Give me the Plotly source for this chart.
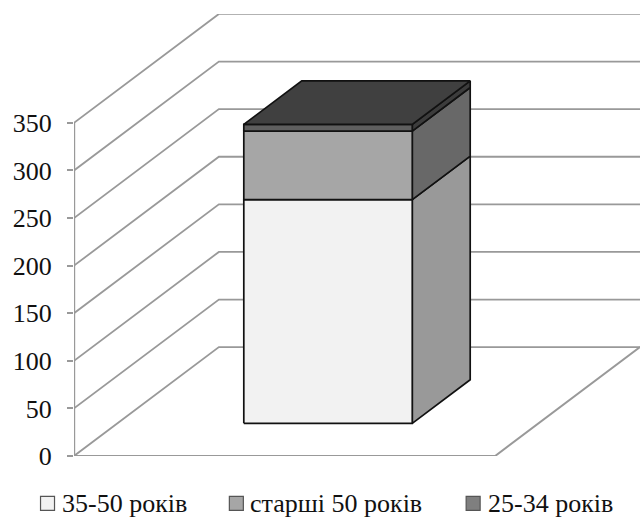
import plotly.graph_objects as go

categories = ["35-50 років", "старші 50 років", "25-34 років"]
values = [235, 72, 7]
y_ticks = [0, 50, 100, 150, 200, 250, 300, 350]
front_colors = ["#f2f2f2", "#a6a6a6", "#5f5f5f"]
side_colors = ["#999999", "#686868", "#3c3c3c"]
legend_colors = ["#f2f2f2", "#a6a6a6", "#7f7f7f"]
top_color = "#404040"
grid_color = "#999999"

W, H = 640, 517
L, B, T = 73.5, 60.5, 14
FLOOR_W = 421.5
PX_PER_UNIT = 0.953
DX, DY = 145 / FLOOR_W, 109 / PX_PER_UNIT


def p(x, d, v):
    return x + DX * d, v + DY * d


def poly(pts, fill, color="#111111", width=1.7):
    xs, ys = zip(*[p(*q) for q in pts])
    return go.Scatter(x=list(xs) + [xs[0]], y=list(ys) + [ys[0]], mode="lines", fill="toself",
                      fillcolor=fill, line=dict(color=color, width=width), hoverinfo="skip", showlegend=False)


def line(pts, width=1.8):
    xs, ys = zip(*[p(*q) for q in pts])
    return go.Scatter(x=xs, y=ys, mode="lines", line=dict(color=grid_color, width=width),
                      hoverinfo="skip", showlegend=False)


fig = go.Figure()
x_end = (W - L) / FLOOR_W
for t in y_ticks:
    fig.add_trace(line([(0, 0, t), (0, 1, t), (x_end - DX, 1, t)]))
fig.add_trace(line([(0, 0, 0), (0, 0, y_ticks[-1])], width=2.4))
fig.add_trace(line([(0, 0, 0), (1, 0, 0), (x_end - DX, 1, 0)], width=2))

x0, x1, d0, d1 = 0.3, 0.7, 0.3, 0.7
base = 0
for val, fc, sc in zip(values, front_colors, side_colors):
    top = base + val
    fig.add_trace(poly([(x1, d0, base), (x1, d1, base), (x1, d1, top), (x1, d0, top)], sc))
    fig.add_trace(poly([(x0, d0, base), (x1, d0, base), (x1, d0, top), (x0, d0, top)], fc))
    base = top
fig.add_trace(poly([(x0, d0, base), (x1, d0, base), (x1, d1, base), (x0, d1, base)], top_color))

FONT = "Liberation Serif"
PW, PH = W - L, H - B - T


def px(v):
    return (v - L) / PW


def py(v):
    return (H - B - v) / PH


annotations, shapes = [], []
swatch_x = [40, 229, 466]
text_x = [60, 249, 487]
for name, sx, tx, fc in zip(categories, swatch_x, text_x, legend_colors):
    shapes.append(dict(type="rect", xref="paper", yref="paper", layer="above",
                       x0=px(sx), x1=px(sx + 14), y0=py(511), y1=py(497),
                       fillcolor=fc, line=dict(color="#555555", width=1.2)))
    annotations.append(dict(text=name, xref="paper", yref="paper", showarrow=False, xanchor="left", yanchor="middle",
                            x=px(tx), y=py(504), xshift=-1, font=dict(family=FONT, size=26, color="#111111")))

fig.update_layout(
    width=W, height=H, autosize=False, paper_bgcolor="white", plot_bgcolor="white",
    margin=dict(l=L, r=0, t=T, b=B, pad=0), showlegend=False,
    xaxis=dict(range=[0, x_end], visible=False, fixedrange=True),
    yaxis=dict(range=[0, PH / PX_PER_UNIT], tickvals=y_ticks, ticks="outside", ticklen=6, tickwidth=2,
               ticklabelstandoff=10, tickcolor=grid_color, showgrid=False, zeroline=False, showline=False,
               fixedrange=True, tickfont=dict(family=FONT, size=26, color="#111111")),
    annotations=annotations, shapes=shapes,
)
fig.write_html("out.html", config=dict(displayModeBar=False),
               post_script="document.body.style.margin='0';document.documentElement.style.overflow='hidden';")
